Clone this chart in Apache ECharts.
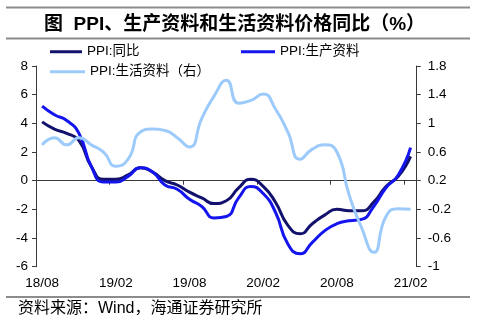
<!DOCTYPE html>
<html><head><meta charset="utf-8">
<script src="https://cdn.jsdelivr.net/npm/echarts@6/dist/echarts.min.js"></script>
<style>html,body{margin:0;padding:0;background:#fff;}#c{width:481px;height:327px;}</style>
</head><body><div id="c"></div>
<script>
const categories = ['18/08','18/09','18/10','18/11','18/12',
  '19/01','19/02','19/03','19/04','19/05','19/06','19/07','19/08','19/09','19/10','19/11','19/12',
  '20/01','20/02','20/03','20/04','20/05','20/06','20/07','20/08','20/09','20/10','20/11','20/12',
  '21/01','21/02'];
const ppiYoY = [4.1,3.6,3.3,2.8,1.0, 0.1,0.1,0.4,0.9,0.6,0.0,-0.3,-0.8,-1.2,-1.6,-1.4,-0.5,
  0.1,-0.4,-1.5,-3.1,-3.7,-3.0,-2.4,-2.0,-2.1,-2.1,-1.5,-0.4, 0.3,1.7];
const producerGoods = [5.2,4.6,4.2,3.3,1.0, -0.1,-0.1,0.3,0.9,0.6,-0.3,-0.6,-1.3,-1.8,-2.6,-2.5,-1.2,
  -0.4,-0.9,-2.2,-4.4,-5.1,-4.3,-3.5,-3.0,-2.8,-2.7,-1.8,-0.5, 0.4,2.3];
const consumerGoods = [0.7,0.8,0.7,0.8,0.7, 0.6,0.4,0.5,0.88,0.92,0.9,0.8,0.67,1.07,1.38,1.6,1.28,
  1.32,1.41,1.2,0.88,0.5,0.64,0.7,0.6,0.0,-0.45,-0.8,-0.3, -0.19,-0.2];
const seriesNames = ['PPI:同比','PPI:生产资料','PPI:生活资料（右）'];
const leftTicks = [-6,-4,-2,0,2,4,6,8];
const rightTicks = [-1,-0.6,-0.2,0.2,0.6,1,1.4,1.8];

const latin = '"Liberation Sans", Arial, "Noto Sans CJK SC", sans-serif';
const axisColor = '#3a3a3a';
const chart = echarts.init(document.getElementById('c'), null, {renderer:'canvas'});
chart.setOption({
  animation: false,
  backgroundColor: '#fff',
  grid: {left: 36, top: 66, width: 380.7, height: 200.7, containLabel: false},
  legend: [
    {data: [seriesNames[0]], left: 50, top: 45, icon: 'rect', itemWidth: 32, itemHeight: 3, itemGap: 6,
     textStyle: {fontSize: 13.5, color: '#000', fontFamily: latin}, padding: 0},
    {data: [seriesNames[1]], left: 241, top: 45, icon: 'rect', itemWidth: 34, itemHeight: 3,
     textStyle: {fontSize: 13.5, color: '#000', fontFamily: latin}, padding: 0},
    {data: [seriesNames[2]], left: 50, top: 65, icon: 'rect', itemWidth: 35, itemHeight: 3,
     textStyle: {fontSize: 13.5, color: '#000', fontFamily: latin}, padding: 0}
  ],
  xAxis: [
    {type: 'category', data: categories, boundaryGap: true,
     axisLine: {show: true, onZero: true, lineStyle: {color: axisColor, width: 1}},
     axisTick: {show: true, interval: 5, length: 4, lineStyle: {color: axisColor}},
     axisLabel: {show: false}, splitLine: {show: false}},
    {type: 'category', data: categories, boundaryGap: true, position: 'bottom',
     axisLine: {show: false, onZero: false}, axisTick: {show: false},
     axisLabel: {interval: 5, margin: 10, fontSize: 13.5, color: '#000', fontFamily: latin},
     splitLine: {show: false}}
  ],
  yAxis: [
    {type: 'value', position: 'left', min: leftTicks[0], max: leftTicks[leftTicks.length-1], interval: 2,
     axisLine: {show: true, lineStyle: {color: axisColor}},
     axisTick: {show: true, length: 4, lineStyle: {color: axisColor}},
     axisLabel: {fontSize: 13.5, color: '#000', fontFamily: latin, margin: 8},
     splitLine: {show: false}},
    {type: 'value', position: 'right', min: rightTicks[0], max: rightTicks[rightTicks.length-1], interval: 0.4,
     axisLine: {show: true, lineStyle: {color: axisColor}},
     axisTick: {show: true, length: 4, lineStyle: {color: axisColor}},
     axisLabel: {fontSize: 13.5, color: '#000', fontFamily: latin, margin: 11,
       formatter: v => String(+v.toFixed(1))},
     splitLine: {show: false}}
  ],
  series: [
    {name: seriesNames[0], type: 'line', data: ppiYoY, xAxisIndex: 0, yAxisIndex: 0,
     smooth: 0.55, showSymbol: false, lineStyle: {color: '#12126e', width: 3}, itemStyle: {color: '#12126e'}},
    {name: seriesNames[1], type: 'line', data: producerGoods, xAxisIndex: 0, yAxisIndex: 0,
     smooth: 0.55, showSymbol: false, lineStyle: {color: '#1414ee', width: 3}, itemStyle: {color: '#1414ee'}},
    {name: seriesNames[2], type: 'line', data: consumerGoods, xAxisIndex: 0, yAxisIndex: 1,
     smooth: 0.55, showSymbol: false, lineStyle: {color: '#9ccbfb', width: 3}, itemStyle: {color: '#9ccbfb'}}
  ],
  graphic: [
    {type: 'line', shape: {x1: 6, y1: 7.5, x2: 470, y2: 7.5}, style: {stroke: '#8c8c8c', lineWidth: 2}},
    {type: 'line', shape: {x1: 6, y1: 38.5, x2: 470, y2: 38.5}, style: {stroke: '#8c8c8c', lineWidth: 2}},
    {type: 'line', shape: {x1: 6, y1: 297, x2: 470, y2: 297}, style: {stroke: '#8c8c8c', lineWidth: 2}},
    {type: 'text', x: 44, y: 24.5, style: {text: '图  PPI、生产资料和生活资料价格同比（%）',
      font: 'bold 19px "Liberation Sans", "Noto Sans CJK SC", sans-serif', fill: '#000',
      textAlign: 'left', textVerticalAlign: 'middle'}},
    {type: 'text', x: 18, y: 309, style: {text: '资料来源：Wind，海通证券研究所',
      font: '16px "Liberation Sans", "Noto Sans CJK SC", sans-serif', fill: '#000',
      textAlign: 'left', textVerticalAlign: 'middle'}}
  ]
});
</script></body></html>
